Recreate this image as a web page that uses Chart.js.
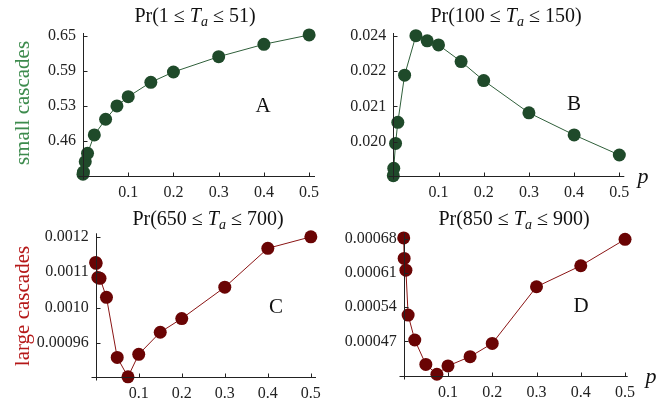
<!DOCTYPE html>
<html>
<head>
<meta charset="utf-8">
<script src="https://cdn.jsdelivr.net/npm/chart.js@4.4.0/dist/chart.umd.min.js"></script>
<style>
  body { margin: 0; background: #fff; }
  #wrap { position: relative; width: 656px; height: 403px; overflow: hidden; font-family: "Liberation Serif", serif; }
  canvas { position: absolute; }
  .lbl { position: absolute; transform: translate(-50%, -50%); white-space: nowrap; color: #111; line-height: 1; }
  .ttl { font-size: 20px; }
  .ttl sub { font-size: 0.7em; vertical-align: -0.25em; }
  .side { font-size: 21px; transform: translate(-50%, -50%) rotate(-90deg); }
  .letter { font-size: 21px; }
  .pvar { font-size: 22px; font-style: italic; }
</style>
</head>
<body>
<div id="wrap">
  <canvas id="panelA" width="328" height="200" style="left:0;top:0"></canvas>
  <canvas id="panelB" width="328" height="200" style="left:328px;top:0"></canvas>
  <canvas id="panelC" width="328" height="203" style="left:0;top:200px"></canvas>
  <canvas id="panelD" width="328" height="203" style="left:328px;top:200px"></canvas>

  <div class="lbl ttl" style="left:195px;top:17px">Pr(1 ≤ <i>T<sub>a</sub></i> ≤ 51)</div>
  <div class="lbl ttl" style="left:506px;top:17px">Pr(100 ≤ <i>T<sub>a</sub></i> ≤ 150)</div>
  <div class="lbl ttl" style="left:208px;top:220px">Pr(650 ≤ <i>T<sub>a</sub></i> ≤ 700)</div>
  <div class="lbl ttl" style="left:514px;top:220px">Pr(850 ≤ <i>T<sub>a</sub></i> ≤ 900)</div>

  <div class="lbl side" style="left:22px;top:103px;color:#3d8b4d">small cascades</div>
  <div class="lbl side" style="left:22px;top:306px;color:#b51818">large cascades</div>

  <div class="lbl letter" style="left:263px;top:105px">A</div>
  <div class="lbl letter" style="left:574px;top:103px">B</div>
  <div class="lbl letter" style="left:276px;top:306px">C</div>
  <div class="lbl letter" style="left:581px;top:305px">D</div>

  <div class="lbl pvar" style="left:643px;top:176px">p</div>
  <div class="lbl pvar" style="left:651px;top:376px">p</div>
</div>

<script>
// p values shared by all four panels
const pValues = [0, 0.001, 0.005, 0.01, 0.025, 0.05, 0.075, 0.1, 0.15, 0.2, 0.3, 0.4, 0.5];

// Pr(1 <= Ta <= 51)
const smallA = [0.404, 0.408, 0.4265, 0.4415, 0.4743, 0.5024, 0.5262, 0.5428, 0.5686, 0.587, 0.6144, 0.6366, 0.6533];
// Pr(100 <= Ta <= 150)
const smallB = [0.0194, 0.01962, 0.02035, 0.02097, 0.02236, 0.02352, 0.02337, 0.02325, 0.02276, 0.0222, 0.02125, 0.0206, 0.02001];
// Pr(650 <= Ta <= 700)
const largeC = [0.001142, 0.00114, 0.001108, 0.001106, 0.001063, 0.000927, 0.000883, 0.000934, 0.000984, 0.001015, 0.001086, 0.001174, 0.0012];
// Pr(850 <= Ta <= 900)
const largeD = [0.000682, 0.00064, 0.000616, 0.000524, 0.000473, 0.000423, 0.000403, 0.00042, 0.000439, 0.000466, 0.000582, 0.000625, 0.000679];

const xTickValues = [0.1, 0.2, 0.3, 0.4, 0.5];
const xTickLabels = ['0.1', '0.2', '0.3', '0.4', '0.5'];

const yTicksA = [0.463, 0.526, 0.589, 0.652];
const yLabelsA = ['0.46', '0.53', '0.59', '0.65'];
const yTicksB = [0.0204, 0.02144, 0.02248, 0.02352];
const yLabelsB = ['0.020', '0.021', '0.022', '0.024'];
const yTicksC = [0.00096, 0.00104, 0.00112, 0.0012];
const yLabelsC = ['0.00096', '0.0010', '0.0011', '0.0012'];
const yTicksD = [0.00047, 0.00054, 0.00061, 0.00068];
const yLabelsD = ['0.00047', '0.00054', '0.00061', '0.00068'];

const GREEN = '#1f4a2a';
const GREEN_LINE = '#2f5f3a';
const RED = '#6a0404';
const RED_LINE = '#8a1414';

// Mathematica-style axes: lines through the origin, ticks pointing inward
const mmaAxes = {
  id: 'mmaAxes',
  afterDatasetsDraw(chart) {
    const { ctx, chartArea: a, scales: { x, y } } = chart;
    const x0 = Math.round(a.left) + 0.5;
    const y0 = Math.round(a.bottom) + 0.5;
    ctx.save();
    ctx.strokeStyle = '#222';
    ctx.lineWidth = 1;
    ctx.beginPath();
    ctx.moveTo(x0, a.top);
    ctx.lineTo(x0, y0 + 3);
    ctx.moveTo(x0 - 5, y0);
    ctx.lineTo(a.right, y0);
    y.ticks.forEach(t => {
      const py = Math.round(y.getPixelForValue(t.value)) + 0.5;
      ctx.moveTo(x0, py);
      ctx.lineTo(x0 + 4, py);
    });
    x.ticks.forEach(t => {
      const px = Math.round(x.getPixelForValue(t.value)) + 0.5;
      ctx.moveTo(px, y0);
      ctx.lineTo(px, y0 - 4);
    });
    ctx.stroke();
    ctx.restore();
  }
};

function createPanel(id, values, yTicks, yLabels, yMin, yMax, xMax, color, lineColor, box) {
  const canvas = document.getElementById(id);
  const ctx = canvas.getContext('2d');
  const tickFont = { family: 'Liberation Serif', size: 16 };

  return new Chart(ctx, {
    type: 'scatter',
    data: {
      datasets: [{
        data: pValues.map((p, i) => ({ x: p, y: values[i] })),
        showLine: true,
        borderColor: lineColor,
        borderWidth: 1,
        backgroundColor: color,
        pointBackgroundColor: color,
        pointBorderWidth: 0,
        pointRadius: 6.5,
        pointHoverRadius: 6.5,
        clip: false
      }]
    },
    options: {
      responsive: false,
      animation: false,
      devicePixelRatio: 1,
      layout: {
        padding: { left: 0, top: box.top, right: canvas.width - box.right, bottom: 0 }
      },
      plugins: {
        legend: { display: false },
        tooltip: { enabled: false }
      },
      scales: {
        x: {
          type: 'linear',
          min: 0,
          max: xMax,
          grid: { display: false, drawTicks: false },
          border: { display: false },
          afterBuildTicks: scale => { scale.ticks = xTickValues.map(v => ({ value: v })); },
          afterFit: scale => { scale.height = canvas.height - box.bottom; },
          ticks: {
            padding: 7,
            maxRotation: 0,
            autoSkip: false,
            color: '#222',
            font: tickFont,
            callback: (v, i) => xTickLabels[i]
          }
        },
        y: {
          type: 'linear',
          min: yMin,
          max: yMax,
          grid: { display: false, drawTicks: false },
          border: { display: false },
          afterBuildTicks: scale => { scale.ticks = yTicks.map(v => ({ value: v })); },
          afterFit: scale => { scale.width = box.left; },
          ticks: {
            padding: 7,
            autoSkip: false,
            color: '#222',
            font: tickFont,
            callback: (v, i) => yLabels[i]
          }
        }
      }
    },
    plugins: [mmaAxes]
  });
}

document.addEventListener('DOMContentLoaded', function() {
  createPanel('panelA', smallA, yTicksA, yLabelsA, 0.4014, 0.6568, 0.513, GREEN, GREEN_LINE,
    { left: 83, top: 33, right: 315, bottom: 175.7 });
  createPanel('panelB', smallB, yTicksB, yLabelsB, 0.0194, 0.0236, 0.511, GREEN, GREEN_LINE,
    { left: 65.3, top: 33, right: 296.3, bottom: 175.7 });
  createPanel('panelC', largeC, yTicksC, yLabelsC, 0.000882, 0.001208, 0.512, RED, RED_LINE,
    { left: 95.7, top: 33.3, right: 327, bottom: 177.3 });
  createPanel('panelD', largeD, yTicksD, yLabelsD, 0.0004, 0.000692, 0.506, RED, RED_LINE,
    { left: 75.7, top: 33, right: 299.7, bottom: 175.7 });
});
</script>
</body>
</html>
